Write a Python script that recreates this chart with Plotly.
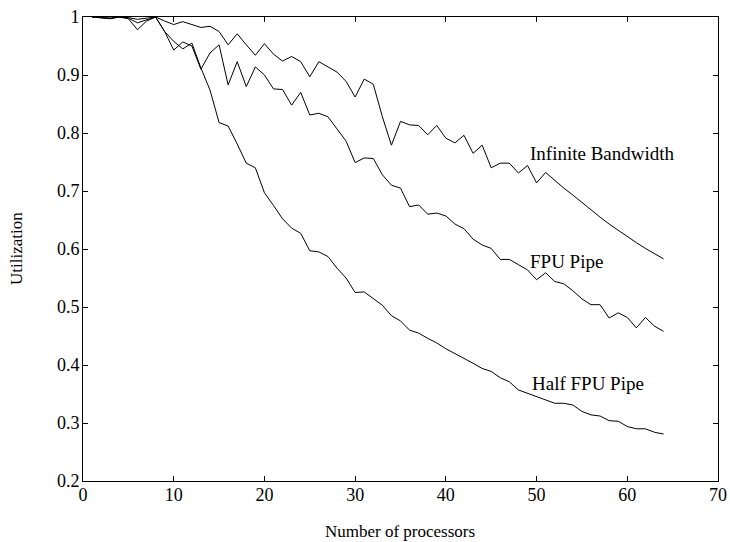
import plotly.graph_objects as go

processors = list(range(1, 65))

infinite_bw = [1.000, 0.999, 0.998, 1.000, 0.999, 0.996, 0.998, 1.000, 0.993, 0.987,
               0.992, 0.987, 0.982, 0.984, 0.975, 0.952, 0.971, 0.952, 0.934, 0.954,
               0.936, 0.924, 0.932, 0.923, 0.897, 0.923, 0.914, 0.905, 0.889, 0.862,
               0.893, 0.884, 0.828, 0.779, 0.820, 0.814, 0.813, 0.797, 0.813, 0.791,
               0.783, 0.796, 0.765, 0.779, 0.740, 0.748, 0.748, 0.731, 0.744, 0.714,
               0.732, 0.718, 0.705, 0.693, 0.680, 0.668, 0.655, 0.643, 0.632, 0.621,
               0.611, 0.601, 0.592, 0.583]

fpu_pipe = [1.000, 0.998, 0.997, 1.000, 0.997, 0.978, 0.993, 1.000, 0.975, 0.943,
            0.957, 0.950, 0.910, 0.938, 0.952, 0.883, 0.923, 0.880, 0.914, 0.900,
            0.876, 0.875, 0.848, 0.870, 0.831, 0.834, 0.828, 0.807, 0.786, 0.749,
            0.757, 0.756, 0.728, 0.710, 0.705, 0.673, 0.676, 0.660, 0.662, 0.657,
            0.643, 0.635, 0.617, 0.607, 0.601, 0.582, 0.582, 0.573, 0.564, 0.547,
            0.559, 0.544, 0.540, 0.528, 0.514, 0.504, 0.504, 0.481, 0.490, 0.482,
            0.464, 0.482, 0.467, 0.458]

half_fpu_pipe = [1.000, 0.999, 0.998, 1.000, 0.998, 0.990, 0.995, 1.000, 0.975, 0.958,
                 0.945, 0.955, 0.912, 0.874, 0.818, 0.812, 0.781, 0.748, 0.740, 0.697,
                 0.675, 0.652, 0.636, 0.627, 0.597, 0.595, 0.587, 0.567, 0.550, 0.525,
                 0.526, 0.515, 0.503, 0.485, 0.476, 0.460, 0.455, 0.446, 0.438, 0.428,
                 0.420, 0.411, 0.403, 0.394, 0.389, 0.378, 0.371, 0.357, 0.351, 0.346,
                 0.340, 0.334, 0.334, 0.331, 0.320, 0.314, 0.312, 0.304, 0.303, 0.294,
                 0.290, 0.290, 0.284, 0.281]

series_names = ["Infinite Bandwidth", "FPU Pipe", "Half FPU Pipe"]
label_x = [49.1, 49.0, 49.3]
label_y = [0.765, 0.578, 0.368]

x_ticks = [0, 10, 20, 30, 40, 50, 60, 70]
y_ticks = [0.2, 0.3, 0.4, 0.5, 0.6, 0.7, 0.8, 0.9, 1.0]
y_tick_text = ["0.2", "0.3", "0.4", "0.5", "0.6", "0.7", "0.8", "0.9", "1"]

FONT = "Liberation Serif, Times New Roman, serif"

W, H = 730, 542
ML, MT, MR, MB = 83, 17, 12, 61
pw, ph = W - ML - MR, H - MT - MB

fig = go.Figure()
for name, vals in zip(series_names, [infinite_bw, fpu_pipe, half_fpu_pipe]):
    fig.add_trace(go.Scatter(x=processors, y=vals, mode="lines", name=name,
                             line=dict(color="black", width=1)))

for name, lx, ly in zip(series_names, label_x, label_y):
    fig.add_annotation(x=lx, y=ly, text=name, showarrow=False, xanchor="left",
                       yanchor="middle", font=dict(family=FONT, size=19, color="black"))

# axis titles (page pixel positions converted to paper coordinates)
fig.add_annotation(x=(400 - ML) / pw, y=(H - MB - 531) / ph,
                   xref="paper", yref="paper", text="Number of processors",
                   showarrow=False, xanchor="center", yanchor="middle",
                   font=dict(family=FONT, size=17, color="black"))
fig.add_annotation(x=(16 - ML) / pw, y=0.5, xref="paper", yref="paper",
                   text="Utilization", showarrow=False, textangle=-90,
                   xanchor="center", yanchor="middle",
                   font=dict(family=FONT, size=17, color="black"))

axis_common = dict(showgrid=False, zeroline=False, showline=True, linecolor="black",
                   linewidth=1, mirror="ticks", ticks="inside", ticklen=5,
                   tickcolor="black", automargin=False, ticklabeloverflow="allow",
                   tickfont=dict(family=FONT, size=18, color="black"))

fig.update_xaxes(range=[0, 70], tickvals=x_ticks, ticklabelstandoff=-3, **axis_common)
fig.update_yaxes(range=[0.2, 1.0], tickvals=y_ticks, ticktext=y_tick_text,
                 ticklabelstandoff=-1, **axis_common)

fig.update_layout(width=W, height=H, showlegend=False,
                  plot_bgcolor="white", paper_bgcolor="white",
                  margin=dict(l=ML, r=MR, t=MT, b=MB))

fig.write_html("out.html",
               config={"displayModeBar": False},
               post_script="document.body.style.margin='0';"
                           "document.documentElement.style.overflow='hidden';")
